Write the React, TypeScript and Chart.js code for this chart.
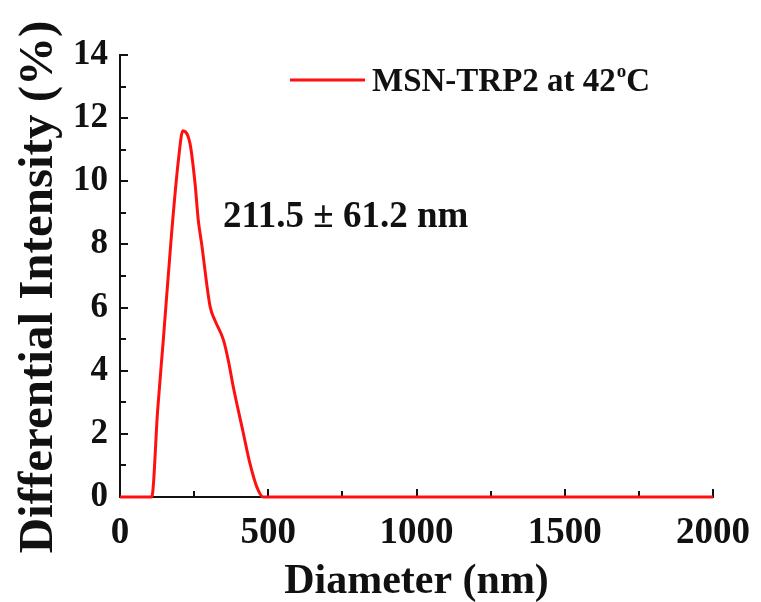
import React, { useEffect, useRef } from "react";
import { Chart, registerables } from "chart.js";

Chart.register(...registerables);

// ---- data ----
const diameters = [0, 107, 127, 146, 174, 197, 212, 236, 253, 264, 275, 304, 320, 349, 365, 382, 416, 438, 461, 483, 500, 1000, 1500, 2000];
const intensities = [0, 0, 2.75, 4.97, 8.35, 10.67, 11.6, 11.2, 9.94, 8.77, 8.04, 6.03, 5.6, 4.97, 4.34, 3.49, 2.02, 1.07, 0.33, 0, 0, 0, 0, 0];
const seriesLabel = "MSN-TRP2 at 42";
const seriesLabelSup = "o";
const seriesLabelTail = "C";
const annotationText = "211.5 \u00b1 61.2 nm";
const annotationAt = { x: 347, y: 8.55 };
const xTitle = "Diameter (nm)";
const yTitle = "Differential Intensity (%)";
const xTicks = { min: 0, max: 2000, major: 500, minor: 250 };
const yTicks = { min: 0, max: 14, major: 2, minor: 1 };

const FONT = "'Liberation Serif', 'Times New Roman', Times, serif";
const RED = "#ff1010";
const INK = "#111";

const decorPlugin = {
  id: "decor",
  beforeDatasetsDraw(chart: any) {
    const ctx = chart.ctx as CanvasRenderingContext2D;
    const xs = chart.scales.x;
    const ys = chart.scales.y;
    const { left, bottom, top } = chart.chartArea;
    ctx.save();
    ctx.strokeStyle = INK;
    ctx.lineWidth = 2;
    for (let v = xTicks.min; v <= xTicks.max; v += xTicks.minor) {
      const px = Math.round(xs.getPixelForValue(v));
      const len = v % xTicks.major === 0 ? 8 : 6;
      ctx.beginPath();
      ctx.moveTo(px, bottom);
      ctx.lineTo(px, bottom - len);
      ctx.stroke();
    }
    for (let v = yTicks.min; v <= yTicks.max; v += yTicks.minor) {
      const py = Math.round(ys.getPixelForValue(v));
      const len = v % yTicks.major === 0 ? 8 : 6;
      ctx.beginPath();
      ctx.moveTo(left, py);
      ctx.lineTo(left + len, py);
      ctx.stroke();
    }
    // y axis title
    ctx.fillStyle = INK;
    ctx.font = `bold 49px ${FONT}`;
    ctx.textAlign = "center";
    ctx.textBaseline = "alphabetic";
    ctx.translate(left - 68, (top + bottom) / 2 + 11);
    ctx.rotate(-Math.PI / 2);
    ctx.fillText(yTitle, 0, 0);
    ctx.restore();
  },
  afterDraw(chart: any) {
    const ctx = chart.ctx as CanvasRenderingContext2D;
    const xs = chart.scales.x;
    const ys = chart.scales.y;
    const { left, top } = chart.chartArea;
    ctx.save();
    // annotation
    ctx.fillStyle = INK;
    ctx.font = `bold 37px ${FONT}`;
    ctx.textBaseline = "alphabetic";
    ctx.textAlign = "left";
    ctx.fillText(annotationText, xs.getPixelForValue(annotationAt.x), ys.getPixelForValue(annotationAt.y));
    // legend
    const lx = left + 170;
    const ly = top + 25;
    ctx.strokeStyle = RED;
    ctx.lineWidth = 3;
    ctx.beginPath();
    ctx.moveTo(lx, ly);
    ctx.lineTo(lx + 75, ly);
    ctx.stroke();
    ctx.font = `bold 33px ${FONT}`;
    let tx = lx + 82;
    const base = ly + 11;
    ctx.fillText(seriesLabel, tx, base);
    tx += ctx.measureText(seriesLabel).width + 1;
    ctx.font = `bold 19px ${FONT}`;
    ctx.fillText(seriesLabelSup, tx, base - 14);
    tx += ctx.measureText(seriesLabelSup).width;
    ctx.font = `bold 33px ${FONT}`;
    ctx.fillText(seriesLabelTail, tx, base);
    ctx.restore();
  },
};

export default function App() {
  const ref = useRef<HTMLCanvasElement>(null);
  useEffect(() => {
    document.body.style.margin = "0";
    const chart = new Chart(ref.current!, {
      type: "line",
      data: {
        datasets: [
          {
            label: seriesLabel + seriesLabelSup + seriesLabelTail,
            data: diameters.map((d, i) => ({ x: d, y: intensities[i] })),
            borderColor: RED,
            borderWidth: 3,
            pointRadius: 0,
            cubicInterpolationMode: "monotone",
            fill: false,
            clip: 6,
          },
        ],
      },
      options: {
        responsive: false,
        animation: false,
        events: [],
        layout: { padding: { left: 0, top: 55, right: 48, bottom: 0 } },
        plugins: { legend: { display: false }, tooltip: { enabled: false } },
        scales: {
          x: {
            type: "linear",
            min: xTicks.min,
            max: xTicks.max,
            afterFit: (s: any) => {
              s.height = 105;
              s.paddingLeft = 0;
              s.paddingRight = 0;
            },
            ticks: {
              stepSize: xTicks.major,
              color: INK,
              padding: 14,
              font: { family: FONT, size: 37, weight: "bold" },
              maxRotation: 0,
              callback: (v: any) => String(v),
            },
            grid: { display: true, drawOnChartArea: false, drawTicks: false, color: "rgba(0,0,0,0)" },
            border: { display: true, color: INK, width: 2 },
            title: {
              display: true,
              text: xTitle,
              color: INK,
              font: { family: FONT, size: 42, weight: "bold" },
              padding: { top: 0, bottom: -5 },
            },
          },
          y: {
            type: "linear",
            min: yTicks.min,
            max: yTicks.max,
            afterFit: (s: any) => {
              s.width = 120;
              s.paddingTop = 0;
              s.paddingBottom = 0;
            },
            ticks: {
              stepSize: yTicks.major,
              color: INK,
              padding: 12,
              font: { family: FONT, size: 35, weight: "bold" },
              callback: (v: any) => String(v),
            },
            grid: { display: true, drawOnChartArea: false, drawTicks: false, color: "rgba(0,0,0,0)" },
            border: { display: true, color: INK, width: 2 },
            title: { display: false },
          },
        },
      },
      plugins: [decorPlugin],
    } as any);
    return () => chart.destroy();
  }, []);
  return (
    <div style={{ width: 761, height: 602, background: "#fff" }}>
      <canvas ref={ref} width={761} height={602} />
    </div>
  );
}
